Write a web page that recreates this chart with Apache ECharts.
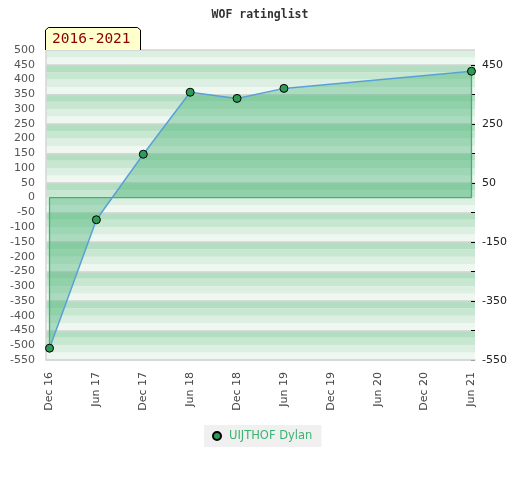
<!DOCTYPE html>
<html><head><meta charset="utf-8">
<script src="https://cdn.jsdelivr.net/npm/echarts@6/dist/echarts.min.js"></script>
<style>html,body{margin:0;padding:0;background:#fff}#c{width:520px;height:480px}</style>
</head><body><div id="c"></div>
<script>
// ---- data ----
const categories = ['Dec 16','Jun 17','Dec 17','Jun 18','Dec 18','Jun 19','Dec 19','Jun 20','Dec 20','Jun 21'];
const pointDates = ['Dec 16','Jun 17','Dec 17','Jun 18','Dec 18','Jun 19','Jun 21'];
const ratings = [-510, -75, 147, 357, 336, 370, 428];
const rightLabels = [-550, -350, -150, 50, 250, 450];
const seriesName = 'UIJTHOF Dylan';
const periodLabel = '2016-2021';
const chartTitle = 'WOF ratinglist';

// ---- build ----
const pts = pointDates.map((d, i) => [categories.indexOf(d), ratings[i]]);
const first = pts[0], last = pts[pts.length - 1];
const edge = [[first[0], first[1]], [first[0], 0], [last[0], 0], [last[0], last[1]]];
const catIdx = categories.map((c, i) => i);

const chart = echarts.init(document.getElementById('c'), null, {renderer: 'canvas'});
chart.setOption({
  animation: false,
  backgroundColor: '#ffffff',
  title: {
    text: chartTitle, left: 'center', top: 4,
    textStyle: {fontFamily: 'DejaVu Sans Mono', fontWeight: 'bold', fontSize: 11.5, color: '#333'}
  },
  legend: {
    data: [{name: seriesName, icon: 'circle'}],
    left: 204, top: 425,
    backgroundColor: '#f0f0f0',
    padding: [5, 9, 5, 8],
    itemWidth: 8, itemHeight: 8, itemGap: 6,
    textStyle: {color: '#3cb371', fontSize: 11.5, fontFamily: 'DejaVu Sans', padding: [0, 0, 0, 3]}
  },
  grid: {left: 46, right: 45, top: 50, bottom: 120},
  xAxis: {
    type: 'value', min: -0.075, max: 9.075,
    axisLine: {show: true, onZero: false, lineStyle: {color: '#d6d6d6', width: 1.5}},
    axisTick: {show: false},
    splitLine: {show: false},
    axisLabel: {
      customValues: catIdx, rotate: 90, margin: 12,
      color: '#444', fontSize: 11, fontFamily: 'DejaVu Sans',
      formatter: v => categories[Math.round(v)]
    },
    z: 3
  },
  yAxis: [
    {
      type: 'value', position: 'left', min: -550, max: 500, interval: 50,
      axisLine: {show: true, onZero: false, lineStyle: {color: '#d6d6d6', width: 1.5}},
      axisTick: {show: false},
      splitLine: {show: false},
      axisLabel: {color: '#555', fontSize: 11, margin: 11, fontFamily: 'DejaVu Sans'},
      z: 3
    },
    {
      type: 'value', position: 'right', min: -550, max: 500, interval: 100,
      axisLine: {show: false, onZero: false},
      axisTick: {show: true, inside: true, length: 4, lineStyle: {color: '#000'}},
      splitLine: {show: true, lineStyle: {color: '#d3d3d3', width: 1.5}},
      axisLabel: {
        showMaxLabel: false, color: '#222', fontSize: 11, margin: 7, fontFamily: 'DejaVu Sans',
        formatter: v => rightLabels.indexOf(v) >= 0 ? String(v) : ''
      },
      z: 2
    },
    {
      type: 'value', position: 'left', min: -550, max: 500, interval: 25,
      axisLine: {show: false, onZero: false}, axisTick: {show: false}, axisLabel: {show: false},
      splitLine: {show: false},
      splitArea: {show: true, areaStyle: {color: ['#eff7f1', '#dcefe2', '#c7e7d1', '#b3dec1']}},
      z: 0
    }
  ],
  series: [
    {
      name: 'area', type: 'line', data: pts, yAxisIndex: 0, z: 3,
      symbol: 'none', silent: true,
      lineStyle: {width: 0, opacity: 0},
      areaStyle: {color: 'rgba(60,175,110,0.55)', origin: 0}
    },
    {
      name: 'edge', type: 'line', data: edge, yAxisIndex: 0,
      symbol: 'none', silent: true, z: 4,
      lineStyle: {color: '#3cb371', width: 1.3}
    },
    {
      name: seriesName, type: 'line', data: pts, yAxisIndex: 0, z: 5,
      symbol: 'circle', symbolSize: 8,
      itemStyle: {color: '#2e9b57', borderColor: '#000', borderWidth: 1},
      lineStyle: {color: '#5aa0d8', width: 1.5}
    }
  ],
  graphic: [
    {
      type: 'polygon', z: 100,
      shape: {points: [[45, 50], [45, 30], [48, 27], [138, 27], [141, 30], [141, 50]]},
      style: {fill: '#ffffcc', stroke: null}
    },
    {
      type: 'polyline', z: 101,
      shape: {points: [[45.5, 50], [45.5, 30], [48.5, 27.5], [137.5, 27.5], [140.5, 30], [140.5, 50]]},
      style: {stroke: '#000', lineWidth: 1, fill: null}
    },
    {
      type: 'text', z: 102, left: 52, top: 32,
      style: {text: periodLabel, fill: '#8b0000', font: '14.5px "DejaVu Sans Mono"'}
    }
  ]
});
</script></body></html>
